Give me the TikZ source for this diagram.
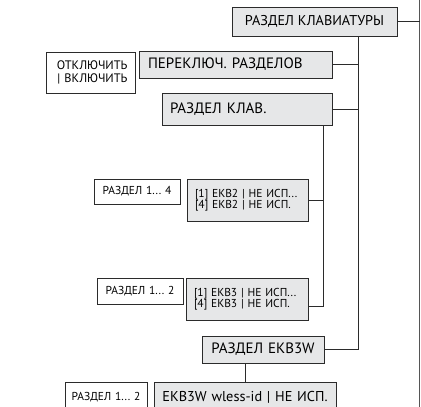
\documentclass[tikz,border=0pt]{standalone}
\usepackage{fontspec}
\setmainfont{PT Sans}
\frenchspacing
\definecolor{boxgray}{HTML}{E6E7E8}
\definecolor{lineC}{HTML}{2B2B2B}
\tikzset{
  base/.style={draw=lineC, line width=0.9pt, anchor=north west, inner xsep=0pt, inner ysep=0pt, outer sep=0pt},
  graybox/.style={base, fill=boxgray},
  whitebox/.style={base, fill=white},
  conn/.style={draw=lineC, line width=1pt},
  big/.style={font=\fontsize{15}{17}\selectfont},
  small/.style={font=\fontsize{11.5}{13.5}\selectfont},
}
\begin{document}
\begin{tikzpicture}[x=1pt, y=-1pt]
\clip (0,0) rectangle (421,407);
\fill[white] (0,0) rectangle (421,407);
% boxes
\node[graybox, font=\fontsize{14.2}{17}\selectfont, minimum width=165pt, minimum height=29pt] (kb) at (232,7) {РАЗДЕЛ КЛАВИАТУРЫ};
\node[graybox, big, minimum width=193pt, minimum height=27pt, text width=175pt, align=left] (sw) at (139,51) {ПЕРЕКЛЮЧ. РАЗДЕЛОВ};
\node[whitebox, font=\fontsize{12.3}{14}\selectfont, minimum width=89pt, minimum height=41pt, text width=74pt, align=right] (onoff) at (46,52) {ОТКЛЮЧИТЬ\\[-1pt]| ВКЛЮЧИТЬ};
\node[graybox, big, minimum width=170pt, minimum height=32pt, text width=154pt, align=left] (ks) at (162,93) {РАЗДЕЛ КЛАВ.};
\node[whitebox, small, minimum width=86pt, minimum height=25pt, text width=86pt, align=center] (p14) at (94,179) {РАЗДЕЛ 1... 4};
\node[graybox, small, minimum width=121pt, minimum height=42pt, text width=105pt, align=left] (e2) at (187,179) {[1] EKB2 | НЕ ИСП...\\[-2pt][4] EKB2 | НЕ ИСП.};
\node[whitebox, small, minimum width=86pt, minimum height=26pt, text width=86pt, align=center] (p12) at (97,278) {РАЗДЕЛ 1... 2};
\node[graybox, small, minimum width=122pt, minimum height=42pt, text width=106pt, align=left] (e3) at (186,278) {[1] EKB3 | НЕ ИСП...\\[-2pt][4] EKB3 | НЕ ИСП.};
\node[graybox, big, minimum width=122pt, minimum height=27pt, text width=122pt, align=center] (e3w) at (202,336) {РАЗДЕЛ EKB3W};
\node[graybox, font=\fontsize{14.3}{17}\selectfont, minimum width=182pt, minimum height=31pt, text width=182pt, align=center] (wl) at (154,382) {EKB3W wless-id | НЕ ИСП.};
\node[whitebox, small, minimum width=82pt, minimum height=31pt, text width=82pt, align=center] (p12b) at (65,382) {РАЗДЕЛ 1... 2};
% connector points
\coordinate (rtop) at (419.5,0);
\coordinate (rbot) at (419.5,407);
\coordinate (tr) at (358,0);
\coordinate (br) at (323,0);
\coordinate (e3c) at ([yshift=-7pt]e3.east);
% connectors
\draw[draw=lineC!80, line width=0.8pt] (rtop) -- (rbot);
\draw[conn] (kb.east) -- (kb.east -| rtop);
\draw[conn] (kb.south -| tr) |- (e3w.east);
\draw[conn] (sw.east) -- (sw.east -| tr);
\draw[conn] (ks.east) -- (ks.east -| tr);
\draw[conn] (ks.south -| br) |- (e3c);
\draw[conn] (e2.east) -- (e2.east -| br);
\draw[conn] (e3w.south -| wl.north) -- (wl.north);
\end{tikzpicture}
\end{document}
